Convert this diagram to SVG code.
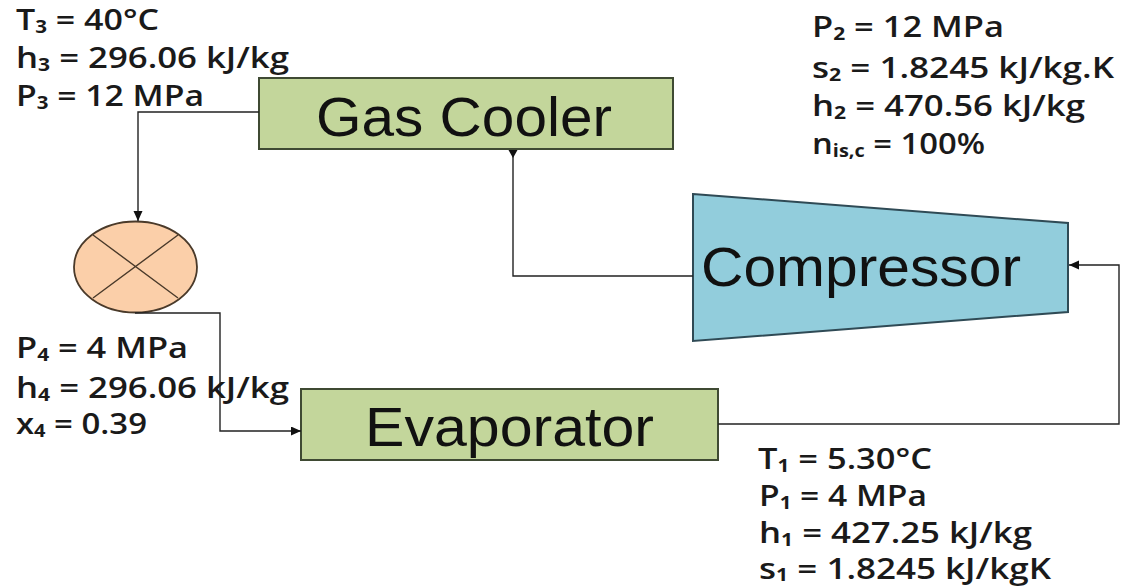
<svg xmlns="http://www.w3.org/2000/svg" width="1128" height="588" viewBox="0 0 1128 588">
<style>
.sh{stroke:#3f4a33;stroke-width:2}
.g{fill:#c3d69b}
.lb{font-family:"Liberation Sans",Arial,sans-serif;fill:#111;font-size:56px}
.t{font-family:"Open Sans","Noto Sans",sans-serif;font-weight:600;font-size:28px;fill:#1a1a1a}
.s{font-size:17px;font-weight:700}
.c{fill:none;stroke:#222;stroke-width:1.4}
</style>
<defs>
<marker id="a" markerUnits="userSpaceOnUse" markerWidth="11" markerHeight="10" refX="10" refY="4.500" orient="auto"><path d="M0 0L10 4.500L0 9Z" fill="#111"/></marker>
<marker id="d" markerUnits="userSpaceOnUse" markerWidth="11" markerHeight="10" refX="0" refY="4.500" orient="90"><path d="M0 0L8 4.500L0 9Z" fill="#111"/></marker>
</defs>
<rect width="1128" height="588" fill="#fff"/>
<g id="gas-cooler"><rect class="sh g" x="259" y="78" width="414" height="71"/><text class="lb" x="316" y="136" textLength="296" lengthAdjust="spacingAndGlyphs">Gas Cooler</text></g>
<g id="evaporator"><rect class="sh g" x="301" y="389" width="417" height="71"/><text class="lb" x="365" y="446" textLength="289" lengthAdjust="spacingAndGlyphs">Evaporator</text></g>
<g id="compressor"><polygon points="693,194 1068,223 1068,312 693,341" fill="#92cddc" stroke="#2f4a55" stroke-width="2"/><text class="lb" x="701" y="286" textLength="320" lengthAdjust="spacingAndGlyphs">Compressor</text></g>
<g id="valve"><ellipse cx="135.500" cy="267" rx="61.500" ry="45.500" fill="#fbcfa9" stroke="#4a3a2a" stroke-width="1.800"/><path d="M93 235L178 298M178 235L93 298" fill="none" stroke="#4a3a2a" stroke-width="1.400"/></g>
<g id="connectors">
<path class="c" d="M259 112H138V221" marker-end="url(#a)"/>
<path class="c" d="M693 276H513V150" marker-end="url(#d)"/>
<path class="c" d="M718 424H1119V265H1069" marker-end="url(#a)"/>
<path class="c" d="M135 313H220V431H301" marker-end="url(#a)"/>
</g>
<g id="labels">
<text class="t" x="16" y="30" textLength="143" lengthAdjust="spacingAndGlyphs">T<tspan class="s" dy="3">3</tspan><tspan dy="-3"> = 40°C</tspan></text>
<text class="t" x="16" y="68" textLength="273" lengthAdjust="spacingAndGlyphs">h<tspan class="s" dy="3">3</tspan><tspan dy="-3"> = 296.06 kJ/kg</tspan></text>
<text class="t" x="16" y="106" textLength="188" lengthAdjust="spacingAndGlyphs">P<tspan class="s" dy="3">3</tspan><tspan dy="-3"> = 12 MPa</tspan></text>
<text class="t" x="16" y="358" textLength="172" lengthAdjust="spacingAndGlyphs">P<tspan class="s" dy="3">4</tspan><tspan dy="-3"> = 4 MPa</tspan></text>
<text class="t" x="16" y="398" textLength="273" lengthAdjust="spacingAndGlyphs">h<tspan class="s" dy="3">4</tspan><tspan dy="-3"> = 296.06 kJ/kg</tspan></text>
<text class="t" x="16" y="434" textLength="131" lengthAdjust="spacingAndGlyphs">x<tspan class="s" dy="3">4</tspan><tspan dy="-3"> = 0.39</tspan></text>
<text class="t" x="812" y="37" textLength="192" lengthAdjust="spacingAndGlyphs">P<tspan class="s" dy="3">2</tspan><tspan dy="-3"> = 12 MPa</tspan></text>
<text class="t" x="812" y="78" textLength="302" lengthAdjust="spacingAndGlyphs">s<tspan class="s" dy="3">2</tspan><tspan dy="-3"> = 1.8245 kJ/kg.K</tspan></text>
<text class="t" x="812" y="116" textLength="273" lengthAdjust="spacingAndGlyphs">h<tspan class="s" dy="3">2</tspan><tspan dy="-3"> = 470.56 kJ/kg</tspan></text>
<text class="t" x="812" y="154" textLength="173" lengthAdjust="spacingAndGlyphs">n<tspan class="s" dy="3">is,c</tspan><tspan dy="-3"> = 100%</tspan></text>
<text class="t" x="758" y="469" textLength="174" lengthAdjust="spacingAndGlyphs">T<tspan class="s" dy="3">1</tspan><tspan dy="-3"> = 5.30°C</tspan></text>
<text class="t" x="759" y="506" textLength="168" lengthAdjust="spacingAndGlyphs">P<tspan class="s" dy="3">1</tspan><tspan dy="-3"> = 4 MPa</tspan></text>
<text class="t" x="759" y="543" textLength="273" lengthAdjust="spacingAndGlyphs">h<tspan class="s" dy="3">1</tspan><tspan dy="-3"> = 427.25 kJ/kg</tspan></text>
<text class="t" x="759" y="579" textLength="292" lengthAdjust="spacingAndGlyphs">s<tspan class="s" dy="2">1</tspan><tspan dy="-2"> = 1.8245 kJ/kgK</tspan></text>
</g>
</svg>
